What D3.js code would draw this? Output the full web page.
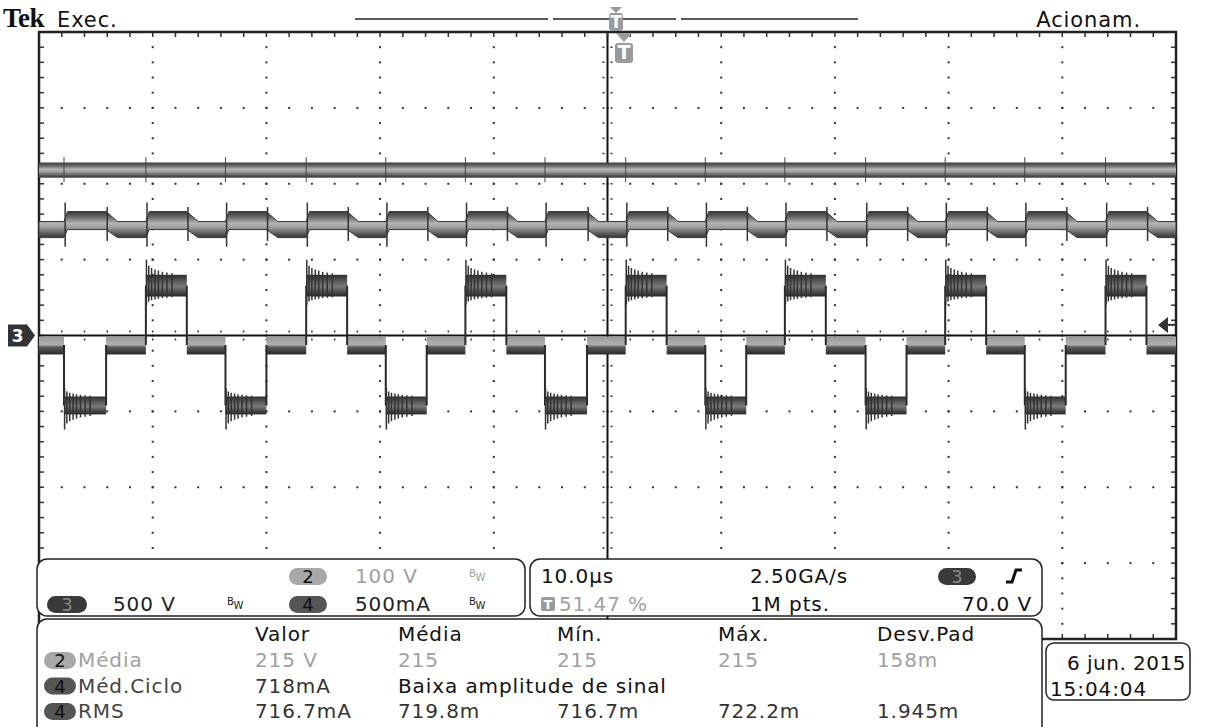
<!DOCTYPE html>
<html>
<head>
<meta charset="utf-8">
<script src="https://cdn.jsdelivr.net/npm/d3@7"></script>
<style>
  body { margin: 0; background: #fff; }
  text { font-family: "DejaVu Sans", sans-serif; letter-spacing: 0.9px; }
</style>
</head>
<body>
<svg id="scope" width="1220" height="727"></svg>
<script>
// ch3 switching edges (µs from left of screen) and the level each segment holds
const edgeTimes = [0, 2.2, 5.9, 9.4, 13.0, 16.4, 20.0, 23.5, 27.1, 30.5, 34.1, 37.5, 41.1, 44.5,
  48.2, 51.6, 55.2, 58.6, 62.2, 65.6, 69.2, 72.7, 76.3, 79.7, 83.3, 86.7, 90.3, 93.8, 97.4, 100]
const segLevels = [0, -1, 0, 1, 0, -1, 0, 1, 0, -1, 0, 1, 0, -1, 0, 1, 0, -1, 0, 1, 0, -1, 0, 1, 0, -1, 0, 1, 0]

// envelope of the ch3 trace per level, volts [bottom, top]
const ch3Bands = { '-1': [-520, -402], '0': [-125, 0], '1': [257, 400] }
const ch3Peaks = { '-1': -620, '1': 500 }   // tip of the first overshoot
const ch3InnerRing = 55                       // V the ringing dips back past the band

// ch2 bus voltage envelope (V), ch4 current envelope (A)
const ch2Band = [208, 228]
const ch4BandOn = [0.698, 0.817]   // while ch3 is switched (±1)
const ch4BandOff = [0.645, 0.751]  // while ch3 sits at 0
const ch2Spike = [-6, 7]
const ch4SpikeOn = [-0.06, 0.125]
const ch4SpikeOff = [-0.075, 0.03]

// ringing after each edge: delay (µs) and share of the first overshoot
const ringDt = [0.05, 0.25, 0.5, 0.8, 1.1, 1.45, 1.85, 2.3]
const ringAmp = [1, 0.6, 0.45, 0.35, 0.28, 0.2, 0.15, 0.1]

const trigLevel = 70 // V on ch3

// readouts
const chanRows = [
  [{ ch: 2, text: '100 V', gray: true }],
  [{ ch: 3, text: '500 V' }, { ch: 4, text: '500mA' }]
]
const measHead = ['Valor', 'Média', 'Mín.', 'Máx.', 'Desv.Pad']
const measRows = [
  { ch: 2, name: 'Média', vals: ['215 V', '215', '215', '215', '158m'], gray: true },
  { ch: 4, name: 'Méd.Ciclo', vals: ['718mA', 'Baixa amplitude de sinal'] },
  { ch: 4, name: 'RMS', vals: ['716.7mA', '719.8m', '716.7m', '722.2m', '1.945m'] }
]

// graticule box
const dims = { left: 39, right: 1176, top: 32, bottom: 639 }

const svg = d3.select('#scope')

const x = d3.scaleLinear().domain([0, 100]).range([dims.left, dims.right])
const xDiv = d3.scaleLinear().domain([0, 10]).range([dims.left, dims.right])
const yDiv = d3.scaleLinear().domain([-4, 4]).range([dims.bottom, dims.top])
const y3 = d3.scaleLinear().domain([-2000, 2000]).range([dims.bottom, dims.top]) // 500 V/div
const y2 = d3.scaleLinear().domain([-400, 400]).range([dims.bottom, dims.top])   // 100 V/div
const y4 = d3.scaleLinear().domain([-2, 2]).range([dims.bottom, dims.top])       // 500 mA/div

// gradients for the persistence bands
const defs = svg.append('defs')
const grad = (id, stops) => {
  const g = defs.append('linearGradient').attr('id', id)
    .attr('x1', 0).attr('x2', 0).attr('y1', 0).attr('y2', 1)
  stops.forEach(([o, c]) => g.append('stop').attr('offset', o).attr('stop-color', c))
}
grad('bandLight', [[0, '#3a3a3a'], [0.22, '#6a6a6a'], [0.45, '#b4b4b4'], [0.6, '#a0a0a0'], [0.8, '#666'], [1, '#333']])
grad('bandDark', [[0, '#2e2e2e'], [0.3, '#5a5a5a'], [0.55, '#7a7a7a'], [0.8, '#4a4a4a'], [1, '#262626']])
grad('bandZero', [[0, '#9a9a9a'], [0.45, '#b0b0b0'], [0.6, '#5a5a5a'], [1, '#2a2a2a']])

// ---------- graticule ----------
const grid = svg.append('g')
const minor = d3.range(1, 50).map(i => i * 0.2)  // along x in div
const minorY = d3.range(1, 40).map(i => -4 + i * 0.2)

// dotted division lines
d3.range(1, 10).filter(k => k !== 5).forEach(k => {
  grid.selectAll(null).data(minorY).enter().append('rect')
    .attr('x', xDiv(k) - 1).attr('y', d => yDiv(d) - 1)
    .attr('width', 2).attr('height', 2).attr('fill', '#333')
})
d3.range(-3, 4).filter(k => k !== 0).forEach(k => {
  grid.selectAll(null).data(minor).enter().append('rect')
    .attr('x', d => xDiv(d) - 1).attr('y', yDiv(k) - 1)
    .attr('width', 2).attr('height', 2).attr('fill', '#333')
})

// centre cross with minor ticks
grid.append('line').attr('x1', xDiv(5)).attr('x2', xDiv(5))
  .attr('y1', dims.top).attr('y2', dims.bottom).attr('stroke', '#111').attr('stroke-width', 2)
grid.selectAll(null).data(minorY).enter().append('line')
  .attr('x1', xDiv(5) - 5).attr('x2', xDiv(5) + 5)
  .attr('y1', d => yDiv(d)).attr('y2', d => yDiv(d))
  .attr('stroke', '#333').attr('stroke-width', 1.5).attr('stroke-dasharray', '2,6')
grid.selectAll(null).data(minor).enter().append('line')
  .attr('x1', d => xDiv(d)).attr('x2', d => xDiv(d))
  .attr('y1', yDiv(0) - 5).attr('y2', yDiv(0) + 5)
  .attr('stroke', '#333').attr('stroke-width', 1.5).attr('stroke-dasharray', '2,6')

// border ticks
grid.selectAll(null).data(minor).enter().append('line')
  .attr('x1', d => xDiv(d)).attr('x2', d => xDiv(d))
  .attr('y1', dims.top).attr('y2', dims.top + 5)
  .attr('stroke', '#333').attr('stroke-width', 1.5)
grid.selectAll(null).data(minor).enter().append('line')
  .attr('x1', d => xDiv(d)).attr('x2', d => xDiv(d))
  .attr('y1', dims.bottom).attr('y2', dims.bottom - 5)
  .attr('stroke', '#333').attr('stroke-width', 1.5)
grid.selectAll(null).data(minorY).enter().append('line')
  .attr('x1', dims.left).attr('x2', dims.left + 5)
  .attr('y1', d => yDiv(d)).attr('y2', d => yDiv(d))
  .attr('stroke', '#333').attr('stroke-width', 1.5)
grid.selectAll(null).data(minorY).enter().append('line')
  .attr('x1', dims.right).attr('x2', dims.right - 5)
  .attr('y1', d => yDiv(d)).attr('y2', d => yDiv(d))
  .attr('stroke', '#333').attr('stroke-width', 1.5)

grid.append('rect')
  .attr('x', dims.left).attr('y', dims.top)
  .attr('width', dims.right - dims.left).attr('height', dims.bottom - dims.top)
  .attr('fill', 'none').attr('stroke', '#222').attr('stroke-width', 2.5)

// ---------- traces ----------
const traces = svg.append('g')
const segs = segLevels.map((lvl, i) => ({ t0: edgeTimes[i], t1: edgeTimes[i + 1], lvl }))
const edges = segs.slice(1).map((s, i) => ({ t: s.t0, from: segs[i].lvl, to: s.lvl }))

// ch2: flat bus voltage
traces.append('rect')
  .attr('x', x(0)).attr('width', x(100) - x(0))
  .attr('y', y2(ch2Band[1])).attr('height', y2(ch2Band[0]) - y2(ch2Band[1]))
  .attr('fill', 'url(#bandLight)')
traces.selectAll(null).data(edges.filter(e => e.to !== 0)).enter().append('line')
  .attr('x1', d => x(d.t)).attr('x2', d => x(d.t))
  .attr('y1', y2(ch2Band[1] + ch2Spike[1])).attr('y2', y2(ch2Band[0] + ch2Spike[0]))
  .attr('stroke', '#444').attr('stroke-width', 1)

// ch4: current, a little higher while the bridge is switched
const ch4Pts = []
segs.forEach((s, i) => {
  const band = s.lvl === 0 ? ch4BandOff : ch4BandOn
  const lag = i === 0 ? 0 : (s.lvl === 0 ? 1.0 : 0.3)
  ch4Pts.push({ t: s.t0 + lag, band }, { t: s.t1, band })
})
traces.append('path')
  .datum(ch4Pts)
  .attr('d', d3.area().x(d => x(d.t)).y0(d => y4(d.band[0])).y1(d => y4(d.band[1])))
  .attr('fill', 'url(#bandLight)')
  .attr('stroke', '#3a3a3a').attr('stroke-width', 1)
traces.selectAll(null).data(edges).enter().append('line')
  .attr('x1', d => x(d.t + 0.1)).attr('x2', d => x(d.t + 0.1))
  .attr('y1', d => d.to === 0 ? y4(ch4BandOn[0] + ch4SpikeOff[0]) : y4(ch4BandOff[0] + ch4SpikeOn[0]))
  .attr('y2', d => d.to === 0 ? y4(ch4BandOn[1] + ch4SpikeOff[1]) : y4(ch4BandOff[1] + ch4SpikeOn[1]))
  .attr('stroke', '#333').attr('stroke-width', 1.5)

// ch3 reference line
traces.append('line')
  .attr('x1', dims.left).attr('x2', dims.right)
  .attr('y1', y3(0)).attr('y2', y3(0))
  .attr('stroke', '#111').attr('stroke-width', 2)

// ch3: three-level output voltage
traces.selectAll(null).data(segs).enter().append('rect')
  .attr('x', d => x(d.t0)).attr('width', d => x(d.t1) - x(d.t0))
  .attr('y', d => y3(ch3Bands[d.lvl][1]) + (d.lvl === 0 ? 1 : 0))
  .attr('height', d => y3(ch3Bands[d.lvl][0]) - y3(ch3Bands[d.lvl][1]) - (d.lvl === 0 ? 1 : 0))
  .attr('fill', d => d.lvl === 0 ? 'url(#bandZero)' : 'url(#bandDark)')

// vertical transitions
const mid = l => (ch3Bands[l][0] + ch3Bands[l][1]) / 2
traces.selectAll(null).data(edges).enter().append('line')
  .attr('x1', d => x(d.t)).attr('x2', d => x(d.t))
  .attr('y1', d => y3(mid(d.from))).attr('y2', d => y3(mid(d.to)))
  .attr('stroke', '#2a2a2a').attr('stroke-width', 2)

// ringing after switching into ±1
const ring = []
edges.filter(e => e.to !== 0).forEach(e => {
  const [lo, hi] = ch3Bands[e.to]
  const outer = e.to > 0 ? hi : lo
  const inner = e.to > 0 ? lo : hi
  ringDt.forEach((dt, i) => ring.push({
    t: e.t + dt,
    a: outer + (ch3Peaks[e.to] - outer) * ringAmp[i],
    b: inner - Math.sign(e.to) * ch3InnerRing * ringAmp[i]
  }))
})
traces.selectAll(null).data(ring).enter().append('line')
  .attr('x1', d => x(d.t)).attr('x2', d => x(d.t))
  .attr('y1', d => y3(d.a)).attr('y2', d => y3(d.b))
  .attr('stroke', '#333').attr('stroke-width', 1.5)

// ---------- markers ----------
const marks = svg.append('g')
marks.append('path')
  .attr('d', `M8,${y3(0) - 11} h19 l8,11 l-8,11 h-19 z`)
  .attr('fill', '#333')
marks.append('text').attr('x', 18).attr('y', y3(0) + 6.5)
  .attr('text-anchor', 'middle').attr('font-size', 17).attr('font-weight', 'bold')
  .attr('fill', '#fff').text('3')

const ty = y3(trigLevel)
marks.append('path')
  .attr('d', `M1158,${ty} l10,-8 v16 z`).attr('fill', '#333')
marks.append('line').attr('x1', 1166).attr('x2', dims.right)
  .attr('y1', ty).attr('y2', ty).attr('stroke', '#333').attr('stroke-width', 2)

// header
svg.append('text').attr('x', 3).attr('y', 27)
  .style('font-family', '"Liberation Serif", serif').style('letter-spacing', '-0.5px')
  .attr('font-weight', 'bold').attr('font-size', 27).attr('fill', '#111').text('Tek')
svg.append('text').attr('x', 57).attr('y', 27).attr('font-size', 21).attr('fill', '#111').text('Exec.')
svg.append('text').attr('x', 1141).attr('y', 27).attr('text-anchor', 'end')
  .attr('font-size', 21).attr('fill', '#111').text('Acionam.')

// record bar
;[[355, 548], [553, 676], [681, 858]].forEach(([a, b]) => {
  svg.append('line').attr('x1', a).attr('x2', b).attr('y1', 19).attr('y2', 19)
    .attr('stroke', '#222').attr('stroke-width', 1.5)
})
const tIcon = (cx, cy, w, h) => {
  svg.append('rect').attr('x', cx - w / 2).attr('y', cy - h / 2).attr('width', w).attr('height', h)
    .attr('rx', 3).attr('fill', '#9a9a9a')
  svg.append('text').attr('x', cx).attr('y', cy + h * 0.32).attr('text-anchor', 'middle')
    .style('letter-spacing', '0px')
    .attr('font-size', h * 0.95).attr('font-weight', 'bold').attr('fill', '#fff').text('T')
}
svg.append('path').attr('d', 'M610,7 h12 l-6,6 z').attr('fill', '#9a9a9a')
tIcon(616, 22, 14, 18)
svg.append('path').attr('d', `M616,${dims.top + 1} h16 l-8,9 z`).attr('fill', '#9a9a9a')
tIcon(624, 53, 18, 20)

// ---------- readout panels ----------
const panel = (px, py, w, h) => svg.append('rect')
  .attr('x', px).attr('y', py).attr('width', w).attr('height', h).attr('rx', 10)
  .attr('fill', '#fff').attr('stroke', '#222').attr('stroke-width', 1.5)

const pill = (px, py, ch, w = 36) => {
  svg.append('rect').attr('x', px).attr('y', py).attr('width', w).attr('height', 17)
    .attr('rx', 8.5).attr('fill', ch === 2 ? '#a8a8a8' : (ch === 3 ? '#3a3a3a' : '#555'))
  svg.append('text').attr('x', px + w / 2).attr('y', py + 15).attr('text-anchor', 'middle')
    .style('letter-spacing', '0px')
    .attr('font-size', 18).attr('fill', ch === 3 ? '#888' : '#111').text(ch)
}
const bw = (px, py, color) => {
  const t = svg.append('text').attr('x', px).attr('y', py).attr('font-size', 10).attr('fill', color)
    .style('letter-spacing', '0px')
  t.append('tspan').text('B')
  t.append('tspan').attr('dy', 4).text('W')
}

panel(37, 559, 488, 57)
chanRows.forEach((row, r) => {
  row.forEach(c => {
    const base = r === 0 ? 583 : 611
    const px = c.ch === 3 ? 47 : 289
    const col = c.gray ? '#a0a0a0' : '#222'
    pill(px, base - 15, c.ch, c.ch === 3 ? 40 : 38)
    svg.append('text').attr('x', px + 66).attr('y', base).attr('font-size', 20).attr('fill', col).text(c.text)
    bw(px + 180, base - 6, col)
  })
})

panel(530, 559, 512, 57)
svg.append('text').attr('x', 541).attr('y', 583).attr('font-size', 20).attr('fill', '#111').text('10.0µs')
svg.append('text').attr('x', 750).attr('y', 583).attr('font-size', 20).attr('fill', '#111').text('2.50GA/s')
svg.append('text').attr('x', 750).attr('y', 611).attr('font-size', 20).attr('fill', '#111').text('1M pts.')
svg.append('rect').attr('x', 541).attr('y', 597).attr('width', 14).attr('height', 14).attr('rx', 2).attr('fill', '#9a9a9a')
svg.append('text').attr('x', 548).attr('y', 609).attr('text-anchor', 'middle').style('letter-spacing', '0px')
  .attr('font-size', 13).attr('font-weight', 'bold').attr('fill', '#fff').text('T')
svg.append('text').attr('x', 559).attr('y', 611).attr('font-size', 20).attr('fill', '#a0a0a0').text('51.47 %')
pill(938, 568, 3, 38)
svg.append('path').attr('d', 'M1006,582 h6 l4,-12 h6').attr('fill', 'none')
  .attr('stroke', '#111').attr('stroke-width', 3)
svg.append('text').attr('x', 1032).attr('y', 611).attr('text-anchor', 'end')
  .attr('font-size', 20).attr('fill', '#111').text(`${trigLevel.toFixed(1)} V`)

panel(37, 619, 1005, 120)
const cols = [255, 398, 557, 718, 877]
measHead.forEach((h, i) => {
  svg.append('text').attr('x', cols[i]).attr('y', 641).attr('font-size', 20).attr('fill', '#111').text(h)
})
measRows.forEach((row, r) => {
  const base = 667 + r * 25.5
  const col = row.gray ? '#a0a0a0' : '#333'
  pill(44, base - 15, row.ch, 32)
  svg.append('text').attr('x', 78).attr('y', base).attr('font-size', 20).attr('fill', row.gray ? '#a0a0a0' : '#444').text(row.name)
  row.vals.forEach((v, i) => {
    svg.append('text').attr('x', cols[i]).attr('y', base).attr('font-size', 20)
      .attr('fill', v.startsWith('Baixa') ? '#111' : col).text(v)
  })
})

// date box
panel(1046, 643, 144, 57).attr('rx', 8)
svg.append('text').attr('x', 1186).attr('y', 670).attr('text-anchor', 'end').attr('font-size', 20)
  .style('letter-spacing', '0.5px').attr('fill', '#111').text('6 jun. 2015')
svg.append('text').attr('x', 1050).attr('y', 696).attr('font-size', 20).attr('fill', '#111').text('15:04:04')
</script>
</body>
</html>
